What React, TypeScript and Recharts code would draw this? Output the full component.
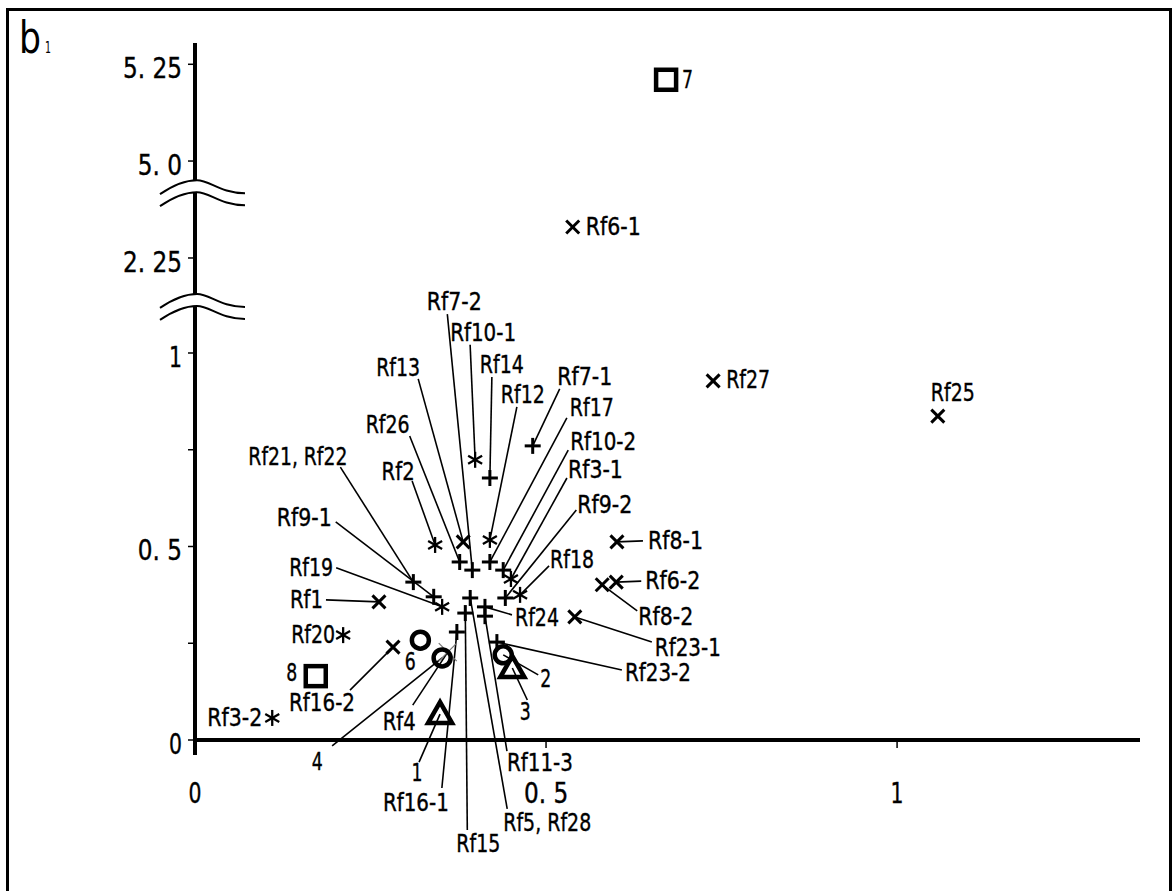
import React from 'react';
import { ScatterChart, Scatter, XAxis, YAxis, ReferenceDot } from 'recharts';

// broken y axis: 1 -> 2.25 and 2.25 -> 5.0 are cut out
const MID_SHIFT = 1.0045;
const TOP_SHIFT = 3.504;
const toAxis = (v: number) => (v <= 1.5 ? v : v <= 4 ? v - MID_SHIFT : v - TOP_SHIFT);

const xTicks = [0, 0.5, 1];
const xTickLabels = ['0', '0. 5', '1'];
const yTickValues = [0, 0.25, 0.5, 0.75, 1, 2.25, 5.0, 5.25];
const yTickLabels = ['0', '', '0. 5', '', '1', '2. 25', '5. 0', '5. 25'];
const axisBreaks = [1.119, 1.413]; // in axis units, inside the cut gaps

const crossPoints = [
  { name: 'Rf6-1', x: 0.538, y: 2.33 },
  { name: 'Rf27', x: 0.738, y: 0.928 },
  { name: 'Rf25', x: 1.058, y: 0.837 },
  { name: 'Rf8-1', x: 0.601, y: 0.512 },
  { name: 'Rf6-2', x: 0.6, y: 0.408 },
  { name: 'Rf8-2', x: 0.58, y: 0.401 },
  { name: 'Rf23-1', x: 0.541, y: 0.318 },
  { name: 'Rf1', x: 0.262, y: 0.357 },
  { name: 'Rf16-2', x: 0.282, y: 0.24 },
  { name: 'Rf13', x: 0.382, y: 0.512 },
];
const faintCrossPoints = [{ name: 'Rf4', x: 0.36, y: 0.227 }];

const plusPoints = [
  { name: 'Rf14', x: 0.42, y: 0.677 },
  { name: 'Rf7-1', x: 0.481, y: 0.76 },
  { name: 'Rf26', x: 0.377, y: 0.46 },
  { name: 'Rf7-2', x: 0.395, y: 0.439 },
  { name: 'Rf17', x: 0.42, y: 0.46 },
  { name: 'Rf10-2', x: 0.439, y: 0.439 },
  { name: 'Rf21, Rf22', x: 0.311, y: 0.408 },
  { name: 'Rf9-1', x: 0.34, y: 0.37 },
  { name: 'Rf9-2', x: 0.442, y: 0.367 },
  { name: 'Rf24', x: 0.413, y: 0.344 },
  { name: 'Rf11-3', x: 0.413, y: 0.32 },
  { name: 'Rf5, Rf28', x: 0.392, y: 0.367 },
  { name: 'Rf15', x: 0.385, y: 0.328 },
  { name: 'Rf16-1', x: 0.373, y: 0.279 },
  { name: 'Rf23-2', x: 0.43, y: 0.253 },
];

const starPoints = [
  { name: 'Rf10-1', x: 0.399, y: 0.724 },
  { name: 'Rf2', x: 0.342, y: 0.504 },
  { name: 'Rf12', x: 0.42, y: 0.517 },
  { name: 'Rf3-1', x: 0.45, y: 0.416 },
  { name: 'Rf19', x: 0.352, y: 0.344 },
  { name: 'Rf18', x: 0.463, y: 0.375 },
  { name: 'Rf3-2', x: 0.11, y: 0.057 },
  { name: 'Rf20', x: 0.211, y: 0.271 },
];

const circlePoints = [
  { name: '6', x: 0.321, y: 0.258 },
  { name: '4', x: 0.352, y: 0.212 },
  { name: '2', x: 0.439, y: 0.22 },
];
const trianglePoints = [
  { name: '1', x: 0.349, y: 0.067 },
  { name: '3', x: 0.452, y: 0.186 },
];
const squarePoints = [
  { name: '7', x: 0.671, y: 5.21 },
  { name: '8', x: 0.172, y: 0.165 },
];

// label placement, pixel offsets from the mark: text (dx, dy, anchor), leader line end (lx, ly)
type Lay = { dx: number; dy: number; a: 'start' | 'middle' | 'end'; lx?: number; ly?: number };
const labelLayout: Record<string, Lay> = {
  'Rf6-1': { dx: 13, dy: 0, a: 'start' },
  '7': { dx: 16, dy: 0, a: 'start' },
  'Rf27': { dx: 13, dy: -1, a: 'start' },
  'Rf25': { dx: 15, dy: -23, a: 'middle' },
  'Rf8-1': { dx: 31, dy: -1, a: 'start', lx: 26, ly: -1 },
  'Rf6-2': { dx: 29, dy: -1, a: 'start', lx: 25, ly: -1 },
  'Rf8-2': { dx: 36, dy: 32, a: 'start', lx: 35, ly: 26 },
  'Rf23-1': { dx: 80, dy: 31, a: 'start', lx: 77, ly: 25 },
  'Rf23-2': { dx: 128, dy: 31, a: 'start', lx: 125, ly: 28 },
  '2': { dx: 37, dy: 24, a: 'start', lx: 35, ly: 20 },
  '3': { dx: 13, dy: 44, a: 'middle', lx: 15, ly: 32 },
  'Rf11-3': { dx: 22, dy: 147, a: 'start', lx: 22, ly: 135 },
  'Rf5, Rf28': { dx: 33, dy: 225, a: 'start', lx: 37, ly: 211 },
  'Rf15': { dx: -9, dy: 231, a: 'start', lx: 2, ly: 217 },
  'Rf16-1': { dx: -74, dy: 171, a: 'start', lx: -15, ly: 156 },
  '1': { dx: -23, dy: 59, a: 'middle', lx: -21, ly: 48 },
  'Rf4': { dx: -65, dy: 70, a: 'start', lx: -35, ly: 53 },
  '4': { dx: -125, dy: 104, a: 'middle', lx: -110, ly: 88 },
  '6': { dx: -10, dy: 22, a: 'middle' },
  'Rf16-2': { dx: -71, dy: 56, a: 'middle', lx: -43, ly: 43 },
  '8': { dx: -24, dy: -3, a: 'middle' },
  'Rf3-2': { dx: -10, dy: 0, a: 'end' },
  'Rf20': { dx: -8, dy: 0, a: 'end' },
  'Rf1': { dx: -56, dy: -2, a: 'end', lx: -53, ly: -2 },
  'Rf19': { dx: -109, dy: -39, a: 'end', lx: -106, ly: -39 },
  'Rf9-1': { dx: -102, dy: -79, a: 'end', lx: -98, ly: -75 },
  'Rf21, Rf22': { dx: -165, dy: -125, a: 'start', lx: -73, ly: -115 },
  'Rf2': { dx: -37, dy: -73, a: 'middle', lx: -23, ly: -64 },
  'Rf26': { dx: -72, dy: -137, a: 'middle', lx: -50, ly: -126 },
  'Rf13': { dx: -65, dy: -174, a: 'middle', lx: -45, ly: -163 },
  'Rf7-2': { dx: -18, dy: -268, a: 'middle', lx: -25, ly: -256 },
  'Rf10-1': { dx: 8, dy: -127, a: 'middle', lx: -5, ly: -115 },
  'Rf14': { dx: 12, dy: -113, a: 'middle', lx: 2, ly: -101 },
  'Rf12': { dx: 33, dy: -145, a: 'middle', lx: 27, ly: -133 },
  'Rf7-1': { dx: 52, dy: -69, a: 'middle', lx: 27, ly: -57 },
  'Rf17': { dx: 80, dy: -154, a: 'start', lx: 77, ly: -144 },
  'Rf10-2': { dx: 67, dy: -128, a: 'start', lx: 65, ly: -120 },
  'Rf3-1': { dx: 57, dy: -109, a: 'start', lx: 56, ly: -101 },
  'Rf9-2': { dx: 72, dy: -93, a: 'start', lx: 71, ly: -88 },
  'Rf18': { dx: 30, dy: -35, a: 'start', lx: 29, ly: -29 },
  'Rf24': { dx: 30, dy: 11, a: 'start', lx: 27, ly: 8 },
};

const FONT = "'DejaVu Sans', 'Liberation Sans', sans-serif";
const toPlot = (pts: { name: string; x: number; y: number }[]) => pts.map((p) => ({ ...p, ya: toAxis(p.y) }));
const allPoints = toPlot([
  ...crossPoints, ...faintCrossPoints, ...plusPoints, ...starPoints,
  ...circlePoints, ...trianglePoints, ...squarePoints,
]);

// narrow half-width look of the original font
const textWidth = (s: string, unit: number) =>
  s.split('').reduce((w, c) => w + (c === ',' || c === ' ' || c === '.' ? 0.5 : 1), 0) * unit;

const LabelShape = (props: any) => {
  const { cx, cy, payload } = props;
  const lay = labelLayout[payload.name];
  if (!lay) return null;
  return (
    <g>
      {lay.lx !== undefined && (
        <line x1={cx} y1={cy} x2={cx + lay.lx} y2={cy + (lay.ly ?? 0)} stroke="#000" strokeWidth={1.6} />
      )}
      <text
        x={cx + lay.dx}
        y={cy + lay.dy}
        textAnchor={lay.a}
        dominantBaseline="central"
        fontSize={24}
        fontFamily={FONT}
        textLength={textWidth(payload.name, 11)}
        lengthAdjust="spacingAndGlyphs"
        fill="#000"
        stroke="#000"
        strokeWidth={0.4}
      >
        {payload.name}
      </text>
    </g>
  );
};

const CrossShape = ({ cx, cy }: any) => (
  <g stroke="#000" strokeWidth={3}>
    <line x1={cx - 6.5} y1={cy - 6.5} x2={cx + 6.5} y2={cy + 6.5} />
    <line x1={cx - 6.5} y1={cy + 6.5} x2={cx + 6.5} y2={cy - 6.5} />
  </g>
);
const FaintCrossShape = ({ cx, cy }: any) => (
  <g stroke="#777" strokeWidth={1.2}>
    <line x1={cx - 9} y1={cy - 9} x2={cx + 9} y2={cy + 9} />
    <line x1={cx - 9} y1={cy + 9} x2={cx + 9} y2={cy - 9} />
  </g>
);
const PlusShape = ({ cx, cy }: any) => (
  <g stroke="#000" strokeWidth={3}>
    <line x1={cx - 8} y1={cy} x2={cx + 8} y2={cy} />
    <line x1={cx} y1={cy - 8} x2={cx} y2={cy + 8} />
  </g>
);
const StarShape = ({ cx, cy }: any) => (
  <g stroke="#000" strokeWidth={2.3}>
    <line x1={cx} y1={cy - 8} x2={cx} y2={cy + 8} />
    <line x1={cx - 7} y1={cy - 4} x2={cx + 7} y2={cy + 4} />
    <line x1={cx - 7} y1={cy + 4} x2={cx + 7} y2={cy - 4} />
  </g>
);
const CircleShape = ({ cx, cy }: any) => (
  <circle cx={cx} cy={cy} r={8.5} fill="none" stroke="#000" strokeWidth={4.5} />
);
const TriangleShape = ({ cx, cy }: any) => (
  <polygon
    points={`${cx},${cy - 12} ${cx - 12},${cy + 9} ${cx + 12},${cy + 9}`}
    fill="none"
    stroke="#000"
    strokeWidth={4.5}
    strokeLinejoin="miter"
  />
);
const SquareShape = ({ cx, cy }: any) => (
  <rect x={cx - 10} y={cy - 10} width={20} height={20} fill="none" stroke="#000" strokeWidth={4.5} />
);

const BreakShape = ({ cx, cy }: any) => {
  const curve = (o: number) =>
    `M ${cx - 35} ${cy + 1 + o} C ${cx - 22} ${cy - 8 + o} ${cx - 10} ${cy - 13 + o} ${cx + 2} ${cy - 13 + o} C ${cx + 15} ${cy - 13 + o} ${cx + 25} ${cy + o} ${cx + 50} ${cy + o}`;
  return (
    <g fill="none">
      <path d={curve(6)} stroke="#fff" strokeWidth={11} />
      <path d={curve(0)} stroke="#000" strokeWidth={2} />
      <path d={curve(12)} stroke="#000" strokeWidth={2} />
    </g>
  );
};

const AxisTail = ({ cx, cy }: any) => (
  <line x1={cx} y1={cy} x2={cx} y2={cy + 15} stroke="#000" strokeWidth={4} />
);

const XTick = ({ x, y, payload }: any) => {
  const i = xTicks.findIndex((t) => Math.abs(t - payload.value) < 1e-6);
  const s = i >= 0 ? xTickLabels[i] : '';
  return (
    <text
      x={x}
      y={y + 43}
      textAnchor="middle"
      dominantBaseline="central"
      fontSize={28}
      fontFamily={FONT}
      textLength={s.length > 1 ? textWidth(s, 14.75) : 13}
      lengthAdjust="spacingAndGlyphs"
      fill="#000"
      stroke="#000"
      strokeWidth={0.4}
    >
      {s}
    </text>
  );
};

const YTick = ({ x, y, payload }: any) => {
  const i = yTickValues.findIndex((t) => Math.abs(toAxis(t) - payload.value) < 1e-6);
  const s = i >= 0 ? yTickLabels[i] : '';
  if (!s) return null;
  return (
    <text
      x={x - 4}
      y={y + 4}
      textAnchor="end"
      dominantBaseline="central"
      fontSize={29}
      fontFamily={FONT}
      textLength={s.length > 1 ? textWidth(s, 14.75) : 13}
      lengthAdjust="spacingAndGlyphs"
      fill="#000"
      stroke="#000"
      strokeWidth={0.4}
    >
      {s}
    </text>
  );
};

export default function App() {
  return (
    <div style={{ position: 'relative', width: 1176, height: 891, overflow: 'hidden', background: '#fff' }}>
      <style>{`body{margin:0}`}</style>
      <div
        style={{
          position: 'absolute',
          left: 6,
          top: 8,
          width: 1166,
          height: 900,
          border: '3px solid #000',
          boxSizing: 'border-box',
        }}
      />
      <svg style={{ position: 'absolute', left: 0, top: 0 }} width={80} height={70}>
        <text x={19} y={53} fontSize={44} fontFamily={FONT} textLength={22} lengthAdjust="spacingAndGlyphs">b</text>
        <text x={45} y={53} fontSize={16} fontFamily={FONT} textLength={6} lengthAdjust="spacingAndGlyphs">1</text>
      </svg>
      <div style={{ position: 'absolute', left: 0, top: 0 }}>
        <ScatterChart width={1176} height={891} margin={{ top: 43, right: 36, left: 0, bottom: 0 }}>
          <XAxis
            type="number"
            dataKey="x"
            domain={[0, 1.346]}
            ticks={xTicks}
            interval={0}
            height={151}
            tickSize={8}
            axisLine={{ stroke: '#000', strokeWidth: 4 }}
            tickLine={{ stroke: '#000', strokeWidth: 1.5 }}
            tick={<XTick />}
          />
          <YAxis
            type="number"
            dataKey="ya"
            domain={[0, 1.801]}
            ticks={yTickValues.map(toAxis)}
            interval={0}
            width={195}
            tickSize={7}
            axisLine={{ stroke: '#000', strokeWidth: 4 }}
            tickLine={{ stroke: '#000', strokeWidth: 1.5 }}
            tick={<YTick />}
          />
          <Scatter data={allPoints} shape={<LabelShape />} isAnimationActive={false} />
          <Scatter data={toPlot(faintCrossPoints)} shape={<FaintCrossShape />} isAnimationActive={false} />
          <Scatter data={toPlot(crossPoints)} shape={<CrossShape />} isAnimationActive={false} />
          <Scatter data={toPlot(plusPoints)} shape={<PlusShape />} isAnimationActive={false} />
          <Scatter data={toPlot(starPoints)} shape={<StarShape />} isAnimationActive={false} />
          <Scatter data={toPlot(circlePoints)} shape={<CircleShape />} isAnimationActive={false} />
          <Scatter data={toPlot(trianglePoints)} shape={<TriangleShape />} isAnimationActive={false} />
          <Scatter data={toPlot(squarePoints)} shape={<SquareShape />} isAnimationActive={false} />
          <ReferenceDot x={0} y={0} r={0} ifOverflow="visible" shape={<AxisTail />} />
          {axisBreaks.map((b) => (
            <ReferenceDot key={b} x={0} y={b} r={0} ifOverflow="visible" shape={<BreakShape />} />
          ))}
        </ScatterChart>
      </div>
    </div>
  );
}
